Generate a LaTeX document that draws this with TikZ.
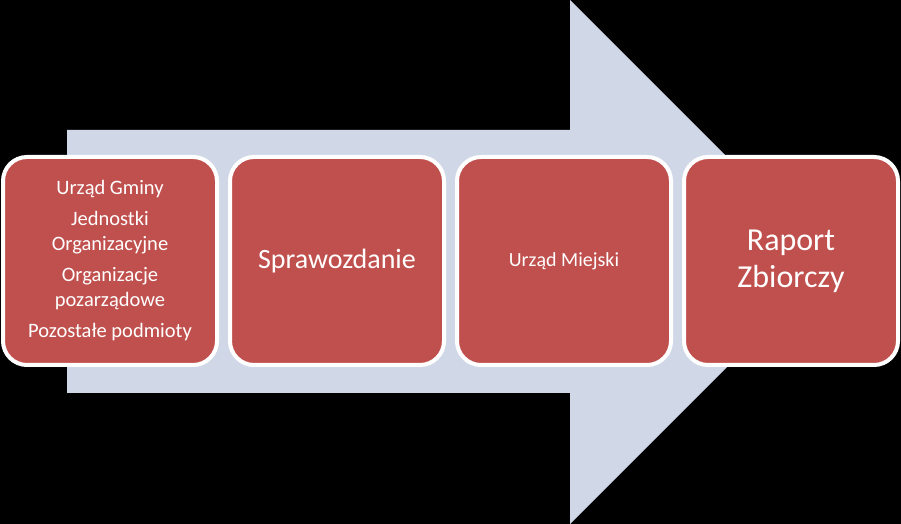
\documentclass[tikz,border=0pt]{standalone}
\usepackage{fontspec}
\setmainfont{Carlito}
\usepackage{tikz}
\usetikzlibrary{positioning}
\definecolor{stepred}{HTML}{C0504D}
\definecolor{flowblue}{HTML}{D0D8E8}
\tikzset{card/.style={rectangle,rounded corners=24pt,fill=stepred,draw=white,line width=4pt,minimum width=214pt,minimum height=208pt,text=white,align=center,inner sep=0pt}}

\begin{document}
\begin{tikzpicture}[x=1pt,y=1pt]
  % black backdrop
  \fill[black] (0,0) rectangle (901,524);
  \useasboundingbox (0,0) rectangle (901,524);
  % the big arrow behind the boxes
  \fill[flowblue] (67,131) -- (67,394) -- (570,394) -- (570,524) -- (832,262)
     -- (570,0) -- (570,131) -- cycle;
  % the boxes
  \node[card,font=\fontsize{20.5}{25}\selectfont] (zrodla) at (110,263)
     {Urząd Gminy\\[6pt]Jednostki\\Organizacyjne\\[6pt]Organizacje\\pozarządowe\\[6pt]Pozostałe podmioty};
  \node[card,right=9pt of zrodla,font=\fontsize{28}{34}\selectfont] (sprawozdanie) {Sprawozdanie};
  \node[card,right=9pt of sprawozdanie,font=\fontsize{20}{25}\selectfont] (urzad) {Urząd Miejski};
  \node[card,right=9pt of urzad,font=\fontsize{32}{37}\selectfont] (raport) {Raport\\Zbiorczy};
\end{tikzpicture}
\end{document}
